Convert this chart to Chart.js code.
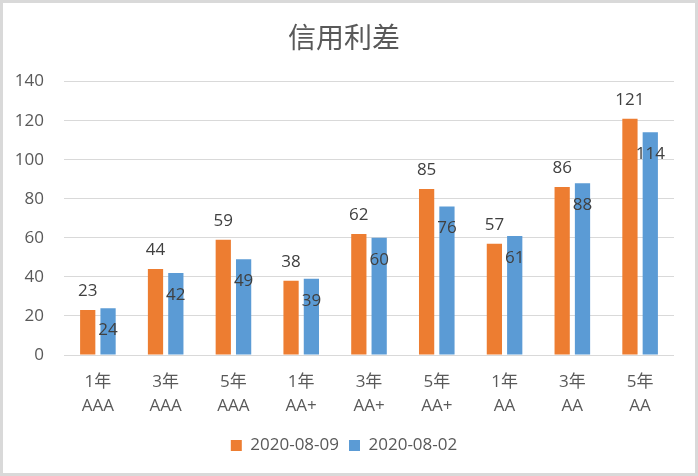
<!DOCTYPE html>
<html>
<head>
<meta charset="utf-8">
<script src="https://cdn.jsdelivr.net/npm/chart.js@4"></script>
<style>
html,body{margin:0;padding:0;background:#fff;}
#wrap{width:698px;height:476px;position:relative;}
</style>
</head>
<body>
<div id="wrap"><canvas id="c" width="698" height="476"></canvas></div>
<script>
const categories = [["1年","AAA"],["3年","AAA"],["5年","AAA"],["1年","AA+"],["3年","AA+"],["5年","AA+"],["1年","AA"],["3年","AA"],["5年","AA"]];
const seriesNames = ["2020-08-09","2020-08-02"];
const values0809 = [23,44,59,38,62,85,57,86,121];
const values0802 = [24,42,49,39,60,76,61,88,114];
const yTicks = [0,20,40,60,80,100,120,140];

const FONT = "'Open Sans','Noto Sans CJK SC',sans-serif";
const TXT = '#595959';

const labelPlugin = {
  id: 'labels',
  afterDatasetsDraw(chart) {
    const ctx = chart.ctx;
    ctx.save();
    ctx.font = "17px " + FONT;
    ctx.fillStyle = '#404040';
    ctx.textAlign = 'center';
    ctx.textBaseline = 'middle';
    chart.data.datasets.forEach((ds, di) => {
      const meta = chart.getDatasetMeta(di);
      meta.data.forEach((bar, i) => {
        const v = ds.data[i];
        const y = di === 0 ? bar.y - 19 : bar.y + 22;
        ctx.fillText(String(v), bar.x, y);
      });
    });
    ctx.restore();
  }
};
const borderPlugin = {
  id: 'border',
  afterDraw(chart) {
    const ctx = chart.ctx;
    ctx.save();
    ctx.strokeStyle = '#d9d9d9';
    ctx.lineWidth = 3;
    ctx.strokeRect(1.5, 1.5, chart.width - 3, chart.height - 3);
    ctx.restore();
  }
};

new Chart(document.getElementById('c'), {
  type: 'bar',
  data: {
    labels: categories,
    datasets: [
      {label: seriesNames[0], data: values0809, backgroundColor: '#ED7D31', borderWidth: 0, categoryPercentage: 0.6, barPercentage: 0.75},
      {label: seriesNames[1], data: values0802, backgroundColor: '#5B9BD5', borderWidth: 0, categoryPercentage: 0.6, barPercentage: 0.75}
    ]
  },
  options: {
    responsive: false,
    animation: false,
    devicePixelRatio: 1,
    layout: {padding: {left: 14, right: 24, top: 23, bottom: 12}},
    plugins: {
      title: {display: true, text: '信用利差', color: TXT, font: {family: FONT, size: 28, weight: 'normal', lineHeight: 1.2}, padding: {top: 0, bottom: 25}},
      legend: {
        position: 'bottom',
        labels: {color: TXT, font: {family: FONT, size: 17}, boxWidth: 11, boxHeight: 11, padding: 10,
          generateLabels(chart) {
            return chart.data.datasets.map((ds, i) => ({text: ds.label, fillStyle: ds.backgroundColor, strokeStyle: ds.backgroundColor, lineWidth: 0, datasetIndex: i, fontColor: TXT}));
          }
        }
      },
      tooltip: {enabled: false}
    },
    scales: {
      x: {
        afterFit(axis) { axis.height = 72; },
        grid: {display: false, drawTicks: false},
        border: {display: false},
        ticks: {color: TXT, font: {family: FONT, size: 17, lineHeight: 1.4}, padding: 15, maxRotation: 0, autoSkip: false}
      },
      y: {
        min: 0, max: 140,
        afterBuildTicks(axis) { axis.ticks = yTicks.map(v => ({value: v})); },
        afterFit(axis) { axis.width = 50; },
        grid: {color: '#d9d9d9', drawTicks: false},
        border: {display: false},
        ticks: {color: TXT, font: {family: FONT, size: 17}, padding: 20}
      }
    }
  },
  plugins: [labelPlugin, borderPlugin]
});
</script>
</body>
</html>
